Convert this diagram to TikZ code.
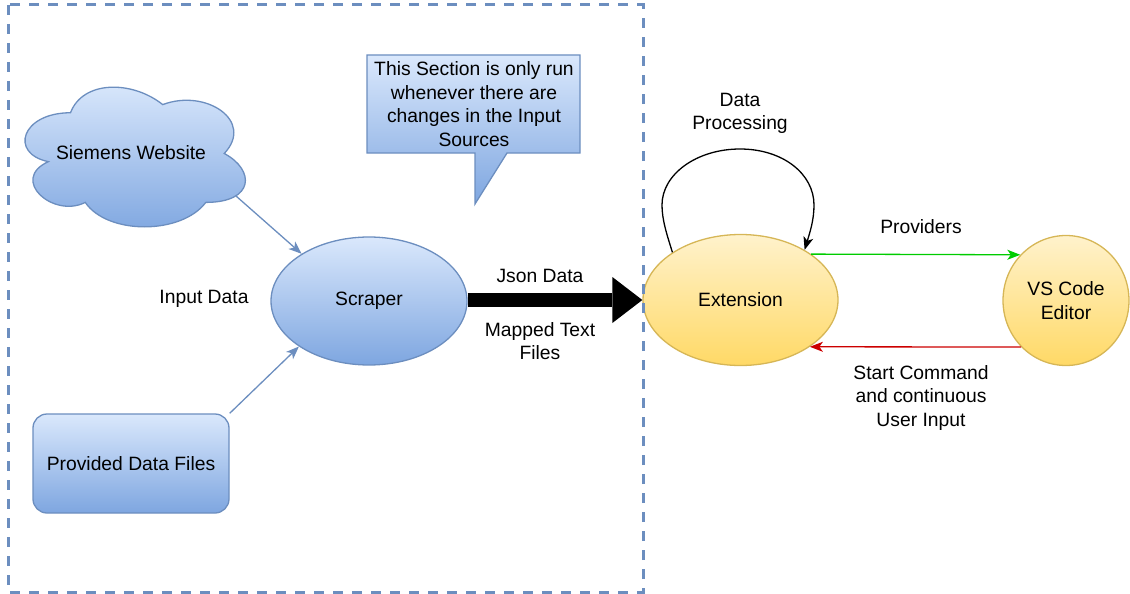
\documentclass[tikz,border=0pt]{standalone}
\usepackage{fontspec}
\setmainfont{Liberation Sans}
\usetikzlibrary{arrows.meta,shapes.geometric,calc}

\definecolor{bluestroke}{HTML}{6C8EBF}
\definecolor{bluetop}{HTML}{DAE8FC}
\definecolor{bluebot}{HTML}{7EA6E0}
\definecolor{yelstroke}{HTML}{D6B656}
\definecolor{yeltop}{HTML}{FFF2CC}
\definecolor{yelbot}{HTML}{FFD966}
\definecolor{provgreen}{HTML}{00CC00}
\definecolor{cmdred}{HTML}{CC0000}

\begin{document}
\begin{tikzpicture}[x=1pt,y=-1pt,
  every node/.style={font=\fontsize{19.3}{23.5}\selectfont, align=center, inner sep=0pt},
  bluefill/.style={draw=bluestroke, line width=1.3pt, top color=bluetop, bottom color=bluebot},
  yelfill/.style={draw=yelstroke, line width=1.3pt, top color=yeltop, bottom color=yelbot},
  bluearrow/.style={draw=bluestroke, line width=1.3pt, -{Stealth[length=13pt,width=10pt,inset=3.5pt]}},
  flowarrow/.style={line width=1.3pt, -{Stealth[length=13pt,width=10pt,inset=3.5pt]}},
  section/.style={draw=bluestroke, line width=3pt, dash pattern=on 10pt off 9pt}
]
\useasboundingbox (0,0) rectangle (1130,594);

% input source: cloud
\path[bluefill]
  (70.5,112.75)
  .. controls (21.3,112.75) and (9,153.5) .. (48.36,161.65)
  .. controls (9,179.58) and (53.28,218.7) .. (85.26,202.4)
  .. controls (107.4,235) and (181.2,235) .. (205.8,202.4)
  .. controls (255,202.4) and (255,169.8) .. (224.25,153.5)
  .. controls (255,120.9) and (205.8,88.3) .. (162.75,104.6)
  .. controls (132,80.15) and (82.8,80.15) .. (70.5,112.75) -- cycle;
\node (web) at (131,153) {Siemens Website};
\coordinate (webout) at (236,196);

% input source: data files
\node[bluefill, rounded corners=14pt, minimum width=196pt, minimum height=99pt]
  (files) at (131,463.5) {Provided Data Files};

% scraper
\node[bluefill, ellipse, minimum width=196pt, minimum height=128pt]
  (scraper) at (369,301) {Scraper};
\node (inlabel) at (204,299) {Input Data};

\draw[bluearrow] (webout) -- (scraper.145);
\draw[bluearrow] (files.north east) -- (scraper.213);

% callout note
\path[bluefill]
  (367,55) -- (580,55) -- (580,153) -- (507,153) -- (475,204) -- (475,153) -- (367,153) -- cycle;
\node (note) at (474,104) {This Section is only run\\whenever there are\\changes in the Input\\Sources};

% extension and editor
\node[yelfill, ellipse, minimum width=195pt, minimum height=131pt]
  (ext) at (740.5,300) {Extension};
\node[yelfill, ellipse, minimum width=126pt, minimum height=130pt]
  (vs) at (1066,300.5) {VS Code\\Editor};

% scraper output
\draw[line width=14pt, -{Triangle[length=30pt,width=46pt,line width=0pt]}]
  (scraper.east |- ext.west) -- (ext.west);
\node (json) at (540,276) {Json Data};
\node (mapped) at (540,341) {Mapped Text\\Files};

% processing loop
\draw[flowarrow] (ext.145)
  .. controls (667,235) and (662,220) .. (662,205)
  .. controls (662,174) and (697,149) .. (740,149)
  .. controls (783,149) and (814,174) .. (814,205)
  .. controls (814,220) and (810,232) .. (ext.38);
\node (proc) at (740,113.5) {Data\\Processing};

% communication with the editor
\draw[flowarrow, provgreen] (ext.33.3) -- (vs.135);
\node (prov) at (921,227) {Providers};
\draw[flowarrow, cmdred] (vs.226) -- (ext.-34.5);
\node (cmd) at (921,398) {Start Command\\and continuous\\User Input};

% section boundary
\draw[section] (8,5) rectangle (643,592);
\end{tikzpicture}
\end{document}
